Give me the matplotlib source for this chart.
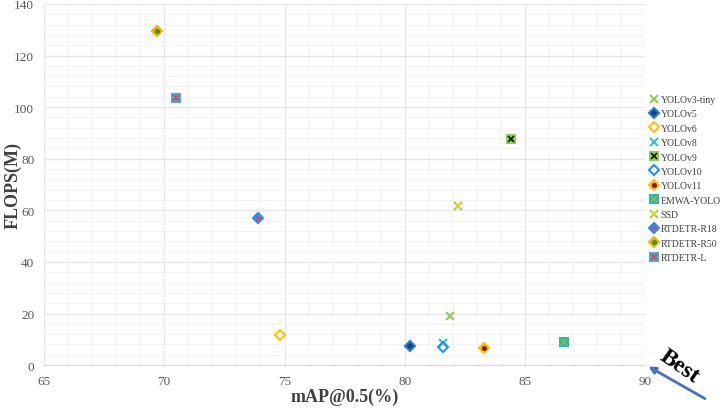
import matplotlib.pyplot as plt
from matplotlib.ticker import MultipleLocator

models = ['YOLOv3-tiny', 'YOLOv5', 'YOLOv6', 'YOLOv8', 'YOLOv9', 'YOLOv10',
          'YOLOv11', 'EMWA-YOLO', 'SSD', 'RTDETR-R18', 'RTDETR-R50', 'RTDETR-L']
map50 = [81.9, 80.2, 74.8, 81.6, 84.4, 81.6, 83.3, 86.6, 82.2, 73.9, 69.7, 70.5]
flops = [19.0, 7.3, 11.8, 8.5, 87.5, 6.9, 6.6, 9.1, 61.5, 57.2, 129.6, 103.6]

# (marker, face, edge, size, overlay marker, overlay color, overlay size)
styles = [
    ('x', 'none', '#92D050', 6, None, None, 0),
    ('D', '#1F3F7A', '#1E7BD8', 5, None, None, 0),
    ('D', 'none', '#FFC000', 5, None, None, 0),
    ('x', 'none', '#33C7CC', 6, None, None, 0),
    ('s', '#92D050', '#92D050', 6, 'x', '#111111', 4),
    ('D', 'none', '#1E90FF', 5, None, None, 0),
    ('D', '#FFA500', '#FFC000', 5, 'o', '#8B1A1A', 2.5),
    ('s', '#2EB8A0', '#2EB8A0', 6, 'x', '#7FBF4F', 4),
    ('x', 'none', '#A8D030', 6, 'x', '#E8D040', 3),
    ('D', '#1E90FF', '#1E90FF', 5, '+', '#F04060', 4),
    ('D', '#E0B000', '#E8B800', 5, 'o', '#4E8C3A', 2.5),
    ('s', '#4BACC6', '#4BACC6', 6, 'x', '#E04060', 4),
]

plt.rcParams['font.family'] = ['Liberation Serif', 'DejaVu Serif']

fig = plt.figure(figsize=(7.21, 4.10), dpi=100)
ax = fig.add_axes([0.061, 0.107, 0.834, 0.881])

handles = []
for name, x, y, st in zip(models, map50, flops, styles):
    mk, fc, ec, ms, omk, oc, oms = st
    h1, = ax.plot([x], [y], linestyle='none', marker=mk, markerfacecolor=fc,
                  markeredgecolor=ec, markersize=ms, markeredgewidth=1.5, zorder=3)
    if omk:
        h2, = ax.plot([x], [y], linestyle='none', marker=omk, color=oc,
                      markersize=oms, markeredgewidth=1.2, zorder=4)
        handles.append((h1, h2))
    else:
        handles.append(h1)

ax.set_xlim(65, 90)
ax.set_ylim(0, 140)
ax.xaxis.set_major_locator(MultipleLocator(5))
ax.xaxis.set_minor_locator(MultipleLocator(1))
ax.yaxis.set_major_locator(MultipleLocator(20))
ax.yaxis.set_minor_locator(MultipleLocator(4))
ax.grid(which='major', color='#E6E6E6', linewidth=0.9)
ax.grid(which='minor', color='#F2F2F2', linewidth=0.8)
ax.set_axisbelow(True)
ax.tick_params(which='both', length=0, labelsize=9.5, colors='#595959', pad=7)
for side in ['top', 'right', 'left']:
    ax.spines[side].set_visible(False)
ax.spines['bottom'].set_color('#D9D9D9')

ax.set_xlabel('mAP@0.5(%)', fontsize=13, fontweight='bold', color='#404040')
ax.set_ylabel('FLOPS(M)', fontsize=13, fontweight='bold', color='#404040')
ax.xaxis.set_label_coords(0.5, -0.062)
ax.yaxis.set_label_coords(-0.037, 0.5)

fig.legend(handles, models, loc='upper left', bbox_to_anchor=(0.897, 0.775),
           frameon=False, fontsize=7, labelspacing=0.55, handlelength=0.7,
           handletextpad=0.35, borderaxespad=0, labelcolor='#404040')

fig.text(0.943, 0.104, 'Best', fontsize=17, fontweight='bold', rotation=-35,
         ha='center', va='center')
ax.annotate('', xy=(0.896, 0.107), xytext=(0.981, 0.022),
            xycoords='figure fraction', textcoords='figure fraction',
            arrowprops=dict(arrowstyle='-|>', color='#4472C4', lw=2,
                            mutation_scale=10))

fig.savefig('out.png', dpi=100)
